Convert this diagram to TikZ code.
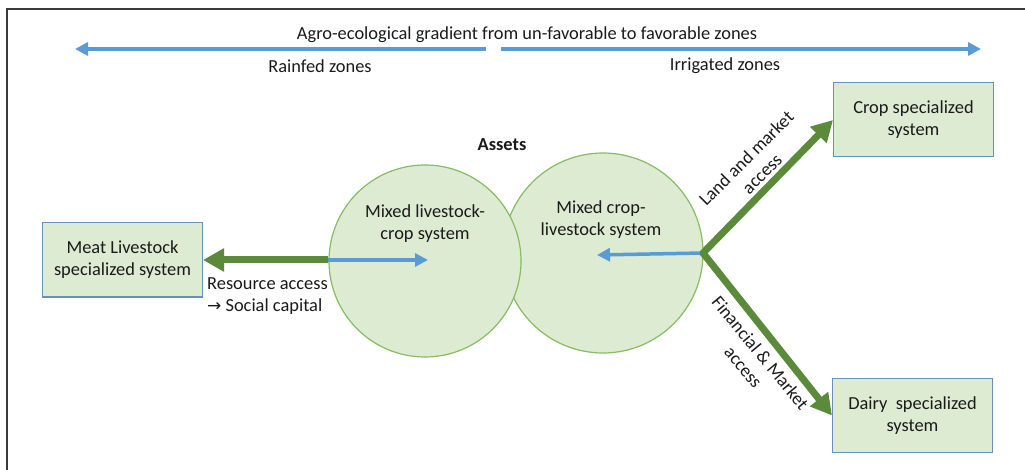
\documentclass[tikz,border=0pt]{standalone}
\usepackage{fontspec}
\setmainfont{Carlito}
\newfontfamily\symfont{DejaVu Sans}
\usetikzlibrary{arrows.meta}
\definecolor{fillg}{HTML}{DEEBD3}
\definecolor{circb}{HTML}{86BC62}
\definecolor{boxb}{HTML}{6A8FBA}
\definecolor{darkg}{HTML}{5A8A3A}
\definecolor{blu}{HTML}{5B9BD5}
\definecolor{txt}{HTML}{1A1A1A}
\definecolor{framec}{HTML}{3A3A3A}
\tikzset{
  every node/.style={text=txt, font=\fontsize{18.4}{22}\selectfont},
  sysbox/.style={draw=boxb, line width=1pt, fill=fillg, minimum width=160pt, minimum height=74pt, align=center, inner sep=0pt},
  bigcirc/.style={circle, draw=circb, line width=1.2pt, fill=fillg, inner sep=0pt},
  greenarrow/.style={draw=darkg, line width=7pt, -{Triangle[length=21pt, width=22pt]}},
  bluearrow/.style={draw=blu, line width=3.5pt, -{Triangle[length=13pt, width=13pt]}},
  lbl/.style={align=center, inner sep=0pt}
}
\begin{document}
\begin{tikzpicture}[x=1pt, y=-1pt]
\useasboundingbox (0,0) rectangle (1025,470);
\draw[framec, line width=1.5pt] (7,470) -- (7,9) -- (1025,9);

% top gradient arrows
\coordinate (gl0) at (486,49);
\coordinate (gl1) at (75,49);
\coordinate (gr0) at (501,49);
\coordinate (gr1) at (981,49);
\draw[bluearrow, line width=4pt] (gl0) -- (gl1);
\draw[bluearrow, line width=4pt] (gr0) -- (gr1);
\node[lbl] (title) at (527,35) {Agro-ecological gradient from un-favorable to favorable zones};
\node[lbl] (rainfed) at (320,66) {Rainfed zones};
\node[lbl] (irrig) at (725,66) {Irrigated zones};

% circles
\node[bigcirc, minimum size=200pt] (rc) at (603,253) {};
\node[bigcirc, minimum size=192pt] (lc) at (425,261) {};
\node[lbl, font=\bfseries\fontsize{18.4}{22}\selectfont] (assets) at (502,145) {Assets};
\node[lbl] (lctext) at (425,224) {Mixed livestock-\\crop system};
\node[lbl] (rctext) at (601,220) {Mixed crop-\\livestock system};

% boxes
\node[sysbox] (meat) at (122.5,260) {Meat Livestock\\specialized system};
\node[sysbox] (crop) at (913.5,120) {Crop specialized\\system};
\node[sysbox] (dairy) at (912.5,415.5) {Dairy~ specialized\\system};

% connectors
\coordinate (junc) at (703,253);
\coordinate (lcin) at (428,260);
\coordinate (rcin) at (597,255);
\draw[greenarrow] (lc.west |- meat.east) -- (meat.east);
\draw[bluearrow] (lc.west |- meat.east) -- (lcin);
\draw[bluearrow] (junc) -- (rcin);
\draw[greenarrow, line cap=round] (junc) -- (crop.west);
\draw[greenarrow] (junc) -- (dairy.west);

% labels
\node[lbl, align=left, anchor=north west] (res) at (207,277) {Resource access\\{\symfont\fontsize{17}{22}\selectfont →} Social capital};
\node[lbl, rotate=45] (land) at (754,166) {Land and market\\access};
\node[lbl, rotate=-50.5] (fin) at (752,360) {Financial \& Market\\access};
\end{tikzpicture}
\end{document}
